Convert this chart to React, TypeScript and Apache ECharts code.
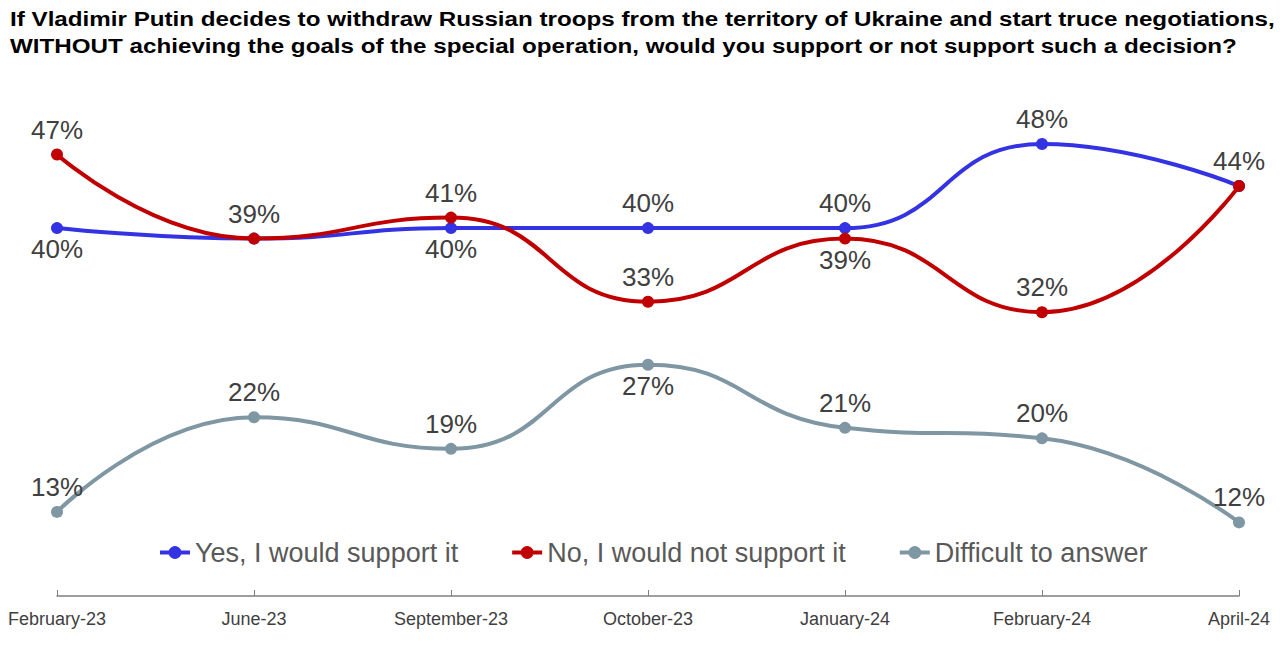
import React, { useEffect, useRef } from "react";
import * as echarts from "echarts";

const categories = ["February-23", "June-23", "September-23", "October-23", "January-24", "February-24", "April-24"];
const yesValues = [40, 39, 40, 40, 40, 48, 44];
const noValues = [47, 39, 41, 33, 39, 32, 44];
const difficultValues = [13, 22, 19, 27, 21, 20, 12];
const yesLabelPos = ["bottom", "none", "bottom", "top", "top", "top", "none"];
const noLabelPos = ["top", "top", "top", "top", "bottom", "top", "top"];
const difficultLabelPos = ["top", "top", "top", "bottom", "top", "top", "top"];
const seriesNames = ["Yes, I would support it", "No, I would not support it", "Difficult to answer"];
const titleLines = [
  "If Vladimir Putin decides to withdraw Russian troops from the territory of Ukraine and start truce negotiations,",
  "WITHOUT achieving the goals of the special operation, would you support or not support such a decision?",
];

const FONT = "Liberation Sans, Arial, sans-serif";

function buildData(values: number[], positions: string[]) {
  return values.map((v, i) => {
    const p = positions[i];
    if (p === "none") return { value: v, label: { show: false } };
    return { value: v, label: { show: true, position: p, distance: p === "top" ? 6 : 2 } };
  });
}

export default function App() {
  const ref = useRef<HTMLDivElement>(null);
  useEffect(() => {
    const chart = echarts.init(ref.current!, null, { renderer: "svg" });
    const labelStyle = {
      show: true,
      formatter: "{c}%",
      fontSize: 26,
      color: "#404040",
      fontFamily: FONT,
    };
    const mk = (name: string, values: number[], pos: string[], color: string, z: number) => ({
      name,
      type: "line",
      smooth: 0.5,
      data: buildData(values, pos),
      symbol: "circle",
      symbolSize: 12,
      z,
      lineStyle: { width: 4, color },
      itemStyle: { color },
      label: labelStyle,
    });
    chart.setOption({
      animation: false,
      graphic: [
        {
          type: "text",
          left: 10,
          top: 6,
          scaleX: 1.21,
          style: {
            text: titleLines.join("\n"),
            font: "bold 20px " + FONT,
            fill: "#000",
            lineHeight: 27,
          },
        },
      ],
      grid: { left: 57, right: 41, top: 123, bottom: 74 },
      legend: {
        data: seriesNames,
        left: 153,
        top: 534,
        itemWidth: 30,
        itemHeight: 16,
        itemGap: 52,
        lineStyle: { width: 4 },
        textStyle: { fontSize: 27, color: "#595959", fontFamily: FONT },
      },
      xAxis: {
        type: "category",
        data: categories,
        boundaryGap: false,
        axisLine: { lineStyle: { color: "#7f7f7f", width: 1.5 } },
        axisTick: { show: true, inside: true, length: 6, lineStyle: { color: "#7f7f7f" } },
        axisLabel: { fontSize: 18, color: "#404040", fontFamily: FONT, margin: 14, interval: 0 },
      },
      yAxis: {
        type: "value",
        min: 5,
        max: 50,
        show: false,
        splitLine: { show: false },
      },
      series: [
        mk(seriesNames[0], yesValues, yesLabelPos, "#3333e3", 3),
        mk(seriesNames[1], noValues, noLabelPos, "#c00000", 4),
        mk(seriesNames[2], difficultValues, difficultLabelPos, "#7f96a3", 2),
      ],
    });
    return () => chart.dispose();
  }, []);
  return (
    <div
      ref={ref}
      style={{ position: "fixed", left: 0, top: 0, width: 1280, height: 670, background: "#fff" }}
    />
  );
}
